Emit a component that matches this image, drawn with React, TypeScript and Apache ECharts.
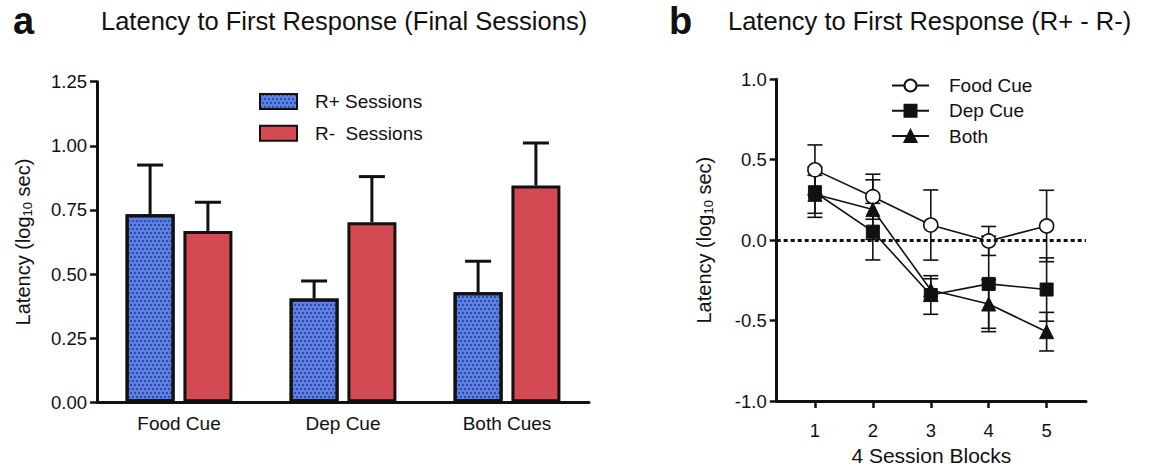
import React, { useEffect, useRef } from "react";
import * as echarts from "echarts";

// ---------- data ----------
const categories = ["Food Cue", "Dep Cue", "Both Cues"];
const rPlusMean = [0.733, 0.405, 0.429];
const rPlusErr = [0.192, 0.068, 0.121];
const rMinusMean = [0.668, 0.702, 0.845];
const rMinusErr = [0.112, 0.178, 0.166];

const blocks = [1, 2, 3, 4, 5];
const foodMean = [0.437, 0.27, 0.094, -0.005, 0.088];
const foodErr = [0.155, 0.14, 0.218, 0.09, 0.222];
const depMean = [0.298, 0.053, -0.341, -0.272, -0.307];
const depErr = [0.156, 0.176, 0.12, 0.297, 0.197];
const bothMean = [0.285, 0.19, -0.31, -0.397, -0.569];
const bothErr = [0.118, 0.185, 0.07, 0.151, 0.12];

const leftTicks = [0, 0.25, 0.5, 0.75, 1.0, 1.25];
const rightTicks = [-1, -0.5, 0, 0.5, 1];

// ---------- styling constants ----------
const FONT = "'Liberation Sans', Arial, Helvetica, sans-serif";
const INK = "#111";
const BAR_W = 49;
const BAR_OFFSET = 28.9;

export default function App() {
  const ref = useRef<HTMLDivElement>(null);

  useEffect(() => {
    if (!ref.current) return;
    const chart = echarts.init(ref.current, undefined, { renderer: "svg" });

    const barErr = (sign: number) => (params: any, api: any) => {
      const c = api.coord([api.value(0), api.value(1)]);
      const t = api.coord([api.value(0), api.value(2)]);
      const x = c[0] + sign * BAR_OFFSET;
      return {
        type: "group",
        children: [
          { type: "line", shape: { x1: x, y1: c[1], x2: x, y2: t[1] }, style: { stroke: INK, lineWidth: 3 } },
          { type: "line", shape: { x1: x - 13, y1: t[1], x2: x + 13, y2: t[1] }, style: { stroke: INK, lineWidth: 3 } },
        ],
      };
    };

    const lineErr = (params: any, api: any) => {
      const lo = api.coord([api.value(0), api.value(1)]);
      const hi = api.coord([api.value(0), api.value(2)]);
      const x = lo[0];
      const hw = 7.5;
      const st = { stroke: INK, lineWidth: 1.6 };
      return {
        type: "group",
        children: [
          { type: "line", shape: { x1: x, y1: lo[1], x2: x, y2: hi[1] }, style: st },
          { type: "line", shape: { x1: x - hw, y1: lo[1], x2: x + hw, y2: lo[1] }, style: st },
          { type: "line", shape: { x1: x - hw, y1: hi[1], x2: x + hw, y2: hi[1] }, style: st },
        ],
      };
    };

    const errData = (xs: number[], m: number[], e: number[]) =>
      xs.map((x, i) => [x, m[i] - e[i], m[i] + e[i]]);
    const barErrData = (m: number[], e: number[]) => m.map((v, i) => [i, v, v + e[i]]);

    const yName = {
      rich: {
        a: { fontSize: 20, color: INK, fontFamily: FONT },
        s: { fontSize: 13, color: INK, fontFamily: FONT, verticalAlign: "bottom", padding: [9, 0, 0, 0] },
      },
    };

    const axisLine = { show: true, onZero: false, lineStyle: { color: INK, width: 3 } };
    const axisTick = { show: true, length: 7, lineStyle: { color: INK, width: 2.5 } };

    chart.setOption({
      animation: false,
      backgroundColor: "#fff",
      textStyle: { fontFamily: FONT },
      title: [
        { text: "a", left: 13, top: 2, padding: 0, textStyle: { fontSize: 38, fontWeight: "bold", color: INK, fontFamily: FONT } },
        { text: "Latency to First Response (Final Sessions)", left: 101, top: 8, padding: 0, textStyle: { fontSize: 25.5, fontWeight: "normal", color: INK, fontFamily: FONT } },
        { text: "b", left: 669, top: 2, padding: 0, textStyle: { fontSize: 38, fontWeight: "bold", color: INK, fontFamily: FONT } },
        { text: "Latency to First Response (R+ - R-)", left: 728, top: 8, padding: 0, textStyle: { fontSize: 25.5, fontWeight: "normal", color: INK, fontFamily: FONT } },
      ],
      legend: [
        {
          data: ["R+ Sessions", "R-  Sessions"],
          orient: "vertical",
          left: 259,
          top: 92,
          padding: 0,
          itemWidth: 37,
          itemHeight: 15,
          itemGap: 12.7,
          icon: "rect",
          selectedMode: false,
          textStyle: { fontSize: 19, color: INK, fontFamily: FONT, padding: [0, 0, 0, 13] },
        },
        {
          data: ["Food Cue", "Dep Cue", "Both"],
          orient: "vertical",
          left: 891,
          top: 76,
          padding: 0,
          itemWidth: 37,
          itemHeight: 15,
          itemGap: 6.3,
          selectedMode: false,
          textStyle: { fontSize: 19, color: INK, fontFamily: FONT, padding: [0, 0, 0, 15] },
        },
      ],
      grid: [
        { left: 97, top: 81.7, width: 492, height: 320.6, containLabel: false, outerBoundsMode: "none" },
        { left: 776.7, top: 79.3, width: 309.3, height: 321.7, containLabel: false, outerBoundsMode: "none" },
      ],
      xAxis: [
        {
          gridIndex: 0,
          type: "category",
          data: categories,
          axisLine,
          axisTick: { show: false },
          axisLabel: { fontSize: 19, color: INK, margin: 12, fontFamily: FONT },
          splitLine: { show: false },
        },
        {
          gridIndex: 1,
          type: "value",
          min: 0.34,
          max: 5.68,
          axisLine,
          axisTick: { ...axisTick, customValues: blocks },
          axisLabel: { fontSize: 18.5, color: INK, margin: 20, fontFamily: FONT, customValues: blocks },
          splitLine: { show: false },
          name: "4 Session Blocks",
          nameLocation: "middle",
          nameGap: 40,
          nameTextStyle: { fontSize: 21, color: INK, fontFamily: FONT },
        },
      ],
      yAxis: [
        {
          gridIndex: 0,
          type: "value",
          min: leftTicks[0],
          max: leftTicks[leftTicks.length - 1],
          interval: 0.25,
          axisLine,
          axisTick,
          axisLabel: { fontSize: 18.5, color: INK, margin: 10, fontFamily: FONT, formatter: (v: number) => v.toFixed(2) },
          splitLine: { show: false },
          name: "{a|Latency (log}{s|10}{a| sec)}",
          nameLocation: "middle",
          nameRotate: 90,
          nameGap: 63,
          nameTextStyle: yName,
        },
        {
          gridIndex: 1,
          type: "value",
          min: rightTicks[0],
          max: rightTicks[rightTicks.length - 1],
          interval: 0.5,
          axisLine,
          axisTick,
          axisLabel: { fontSize: 18.5, color: INK, margin: 10, fontFamily: FONT, formatter: (v: number) => v.toFixed(1) },
          splitLine: { show: false },
          name: "{a|Latency (log}{s|10}{a| sec)}",
          nameLocation: "middle",
          nameRotate: 90,
          nameGap: 62,
          nameTextStyle: yName,
        },
      ],
      series: [
        {
          name: "R+ Sessions",
          type: "bar",
          xAxisIndex: 0,
          yAxisIndex: 0,
          data: rPlusMean,
          barWidth: BAR_W,
          barGap: "18%",
          itemStyle: {
            color: "#5a7fe6",
            borderColor: INK,
            borderWidth: 3,
            decal: {
              symbol: "circle",
              symbolSize: 0.8,
              dashArrayX: [[2, 2], [0, 2, 2, 0]],
              dashArrayY: [2, 2],
              rotation: 0,
              color: "rgba(25,35,100,0.85)",
            },
          },
        },
        {
          name: "R-  Sessions",
          type: "bar",
          xAxisIndex: 0,
          yAxisIndex: 0,
          data: rMinusMean,
          barWidth: BAR_W,
          barGap: "18%",
          itemStyle: { color: "#d34a52", borderColor: INK, borderWidth: 3 },
        },
        {
          name: "errPlus",
          type: "custom",
          xAxisIndex: 0,
          yAxisIndex: 0,
          data: barErrData(rPlusMean, rPlusErr),
          renderItem: barErr(-1),
          z: 5,
        },
        {
          name: "errMinus",
          type: "custom",
          xAxisIndex: 0,
          yAxisIndex: 0,
          data: barErrData(rMinusMean, rMinusErr),
          renderItem: barErr(1),
          z: 5,
        },
        {
          name: "errFood",
          type: "custom",
          xAxisIndex: 1,
          yAxisIndex: 1,
          data: errData(blocks, foodMean, foodErr),
          renderItem: lineErr,
          z: 1,
        },
        {
          name: "errDep",
          type: "custom",
          xAxisIndex: 1,
          yAxisIndex: 1,
          data: errData(blocks, depMean, depErr),
          renderItem: lineErr,
          z: 1,
        },
        {
          name: "errBoth",
          type: "custom",
          xAxisIndex: 1,
          yAxisIndex: 1,
          data: errData(blocks, bothMean, bothErr),
          renderItem: lineErr,
          z: 1,
        },
        {
          name: "Food Cue",
          type: "line",
          xAxisIndex: 1,
          yAxisIndex: 1,
          data: blocks.map((b, i) => [b, foodMean[i]]),
          symbol: "circle",
          symbolSize: 14,
          itemStyle: { color: "#fff", borderColor: INK, borderWidth: 1.6 },
          lineStyle: { color: INK, width: 1.6 },
          z: 3,
          markLine: {
            silent: true,
            symbol: ["none", "none"],
            label: { show: false },
            lineStyle: { type: [4, 3], color: INK, width: 3 },
            data: [{ yAxis: 0 }],
          },
        },
        {
          name: "Dep Cue",
          type: "line",
          xAxisIndex: 1,
          yAxisIndex: 1,
          data: blocks.map((b, i) => [b, depMean[i]]),
          symbol: "rect",
          symbolSize: 13,
          itemStyle: { color: INK, borderColor: INK, borderWidth: 1 },
          lineStyle: { color: INK, width: 1.6 },
          z: 3,
        },
        {
          name: "Both",
          type: "line",
          xAxisIndex: 1,
          yAxisIndex: 1,
          data: blocks.map((b, i) => [b, bothMean[i]]),
          symbol: "triangle",
          symbolSize: 14,
          itemStyle: { color: INK, borderColor: INK, borderWidth: 1 },
          lineStyle: { color: INK, width: 1.6 },
          z: 3,
        },
      ],
    });

    return () => chart.dispose();
  }, []);

  return (
    <div
      ref={ref}
      style={{ position: "fixed", left: 0, top: 0, width: 1150, height: 472, background: "#fff" }}
    />
  );
}
